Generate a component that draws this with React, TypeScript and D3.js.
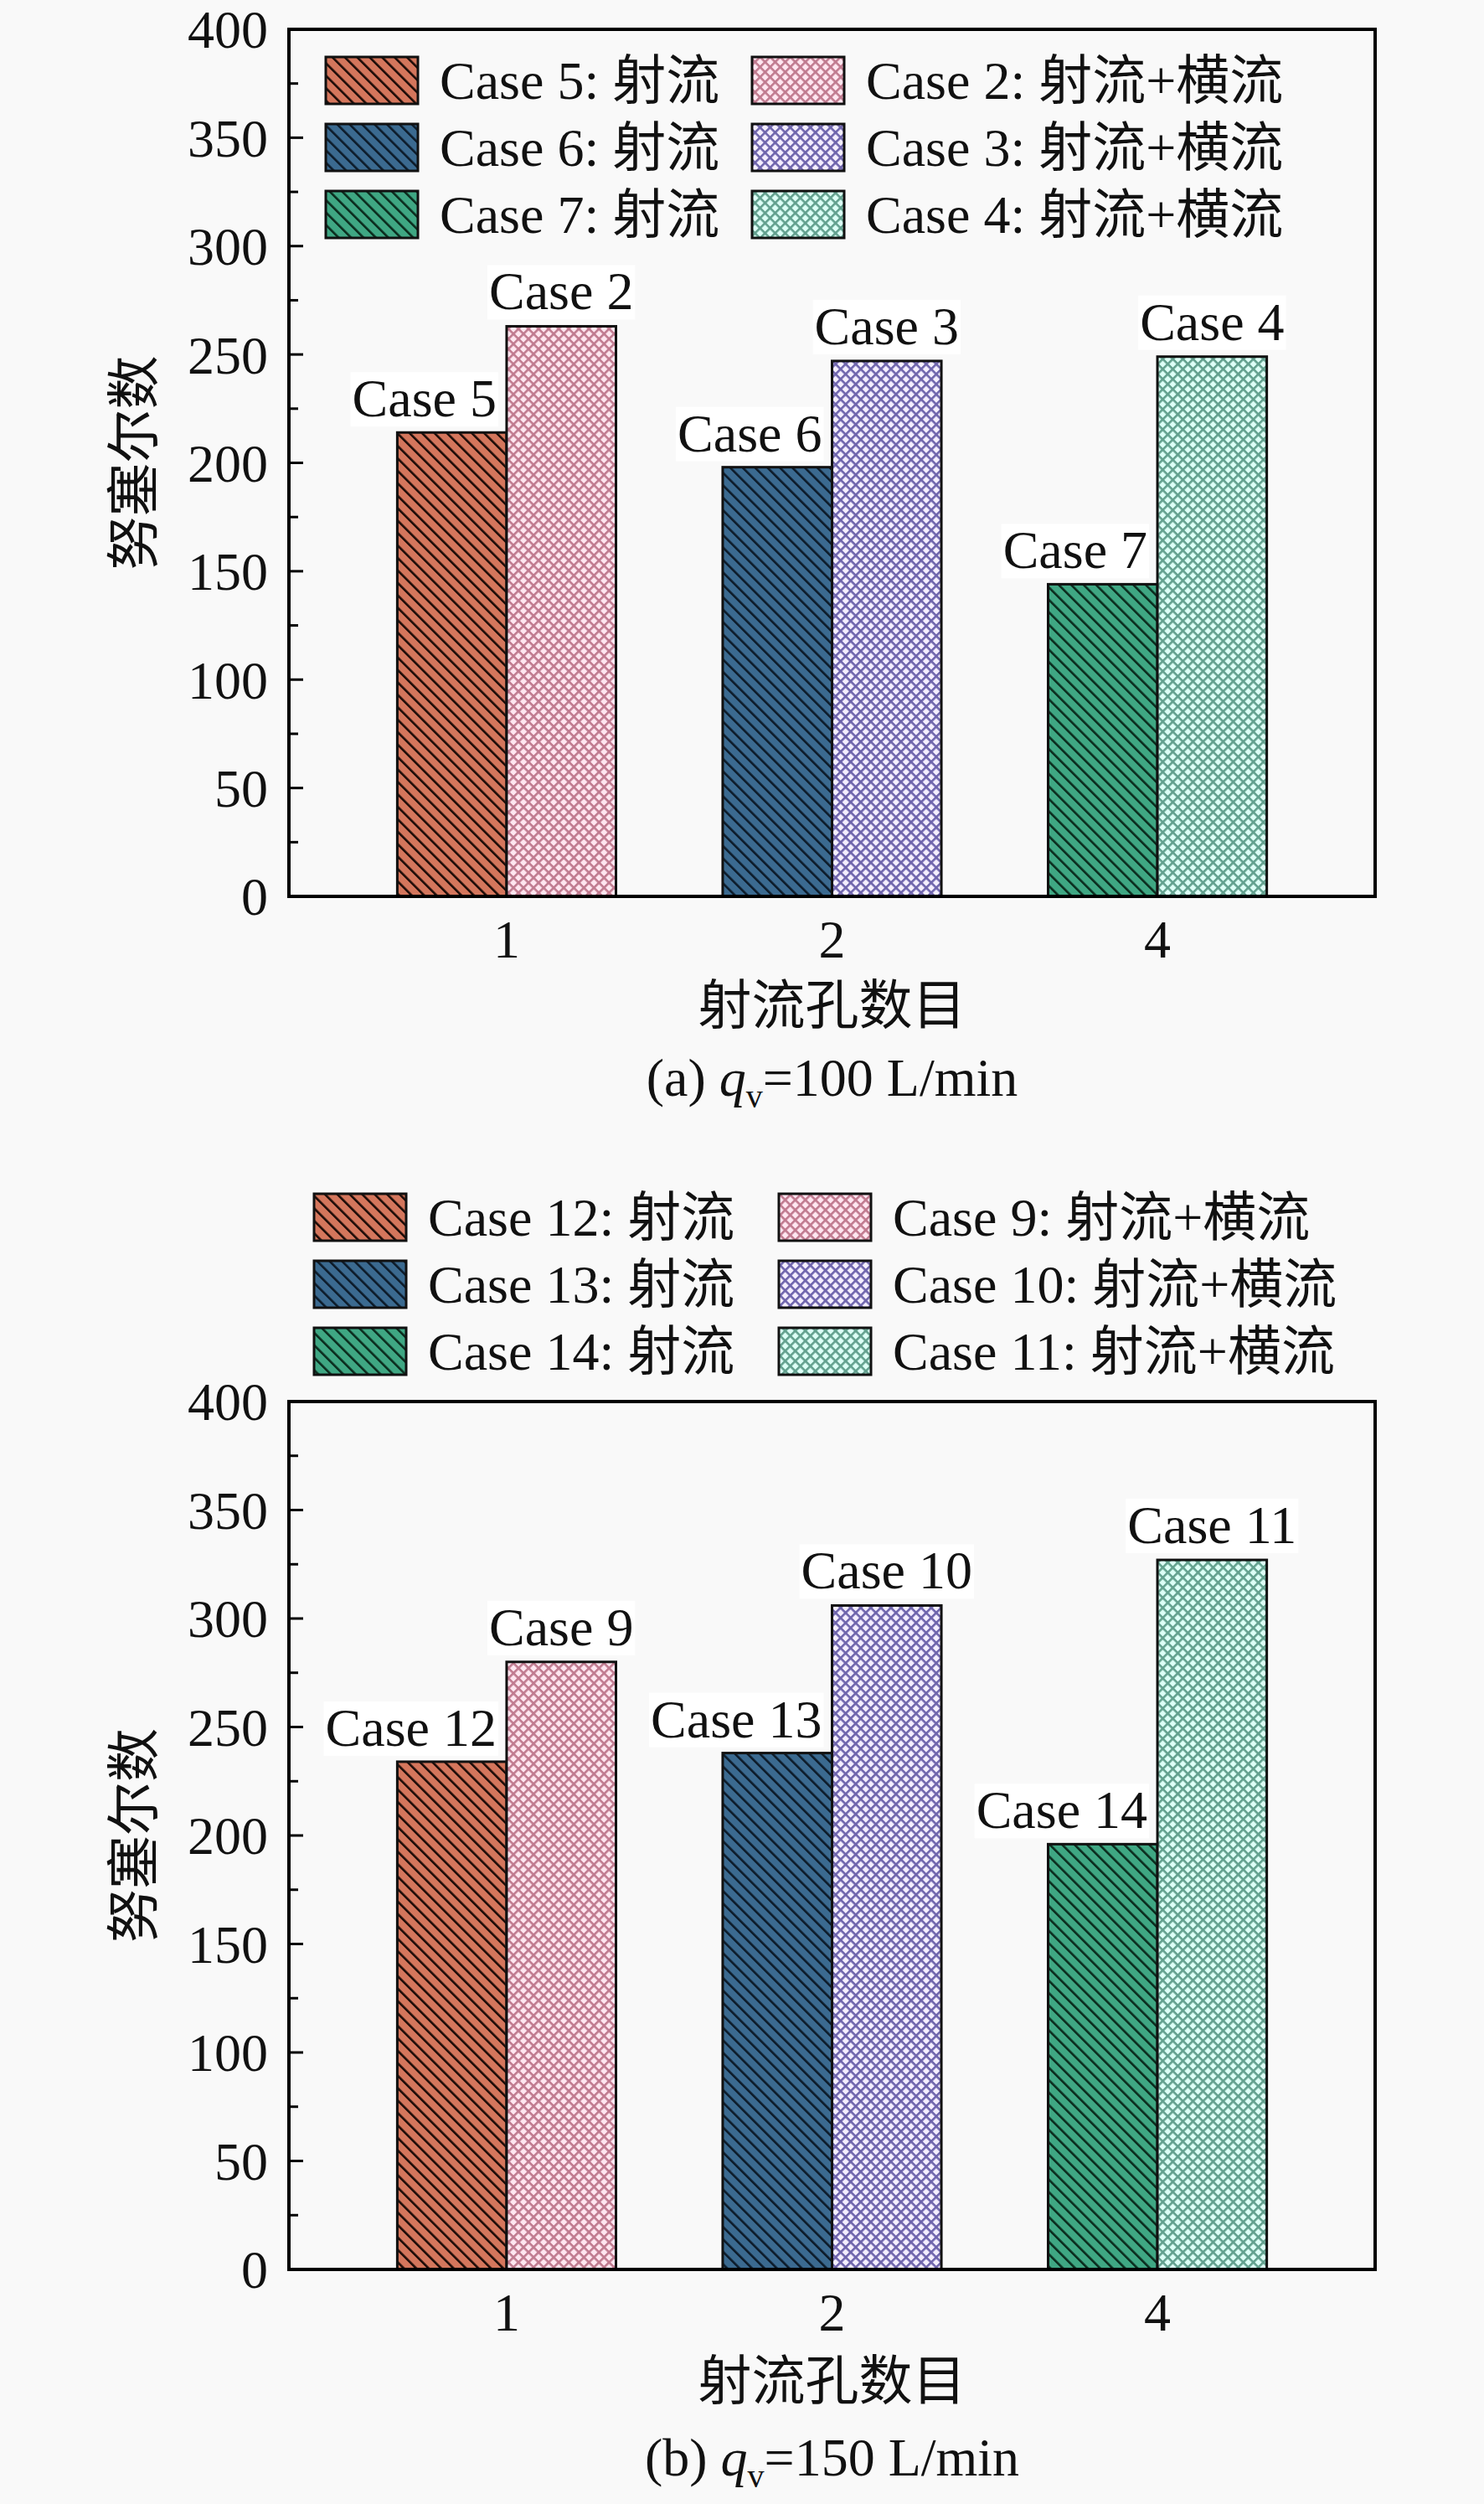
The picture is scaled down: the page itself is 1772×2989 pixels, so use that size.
import React, { useRef, useEffect } from "react";
import * as d3 from "d3";

const W = 1772;
const H = 2989;

// -----------------------------
// Data
// -----------------------------
const categories = ["1", "2", "4"];
const yTicks = [0, 50, 100, 150, 200, 250, 300, 350, 400];
const yMinorTicks = [25, 75, 125, 175, 225, 275, 325, 375];

const jetCasesA = ["Case 5", "Case 6", "Case 7"];
const crossCasesA = ["Case 2", "Case 3", "Case 4"];
const jetValuesA = [214, 198, 144];
const crossValuesA = [263, 247, 249];

const jetCasesB = ["Case 12", "Case 13", "Case 14"];
const crossCasesB = ["Case 9", "Case 10", "Case 11"];
const jetValuesB = [234, 238, 196];
const crossValuesB = [280, 306, 327];

const jetColors = ["#d4765c", "#3b6a90", "#3fa783"];
const jetLineColors = ["#1a0a06", "#0c1a28", "#0a2a1c"];
const crossBg = ["#ffe6f0", "#f4eeff", "#dcfff6"];
const crossLine = ["#c07a8f", "#6e64ac", "#62a08e"];

const yTitle = "努塞尔数";
const xTitle = "射流孔数目";

type Panel = {
    id: string;
    jetCases: string[];
    crossCases: string[];
    jet: number[];
    cross: number[];
    top: number;
    bottom: number;
    legendRows: number[];
    legendX: [number, number];
    tickY: number;
    titleY: number;
    captionY: number;
    letter: string;
    flow: string;
};

const panels: Panel[] = [
    {
        id: "a", jetCases: jetCasesA, crossCases: crossCasesA, jet: jetValuesA, cross: crossValuesA,
        top: 35, bottom: 1070, legendRows: [96, 176, 256], legendX: [389, 898],
        tickY: 1143, titleY: 1222, captionY: 1308, letter: "(a) ", flow: "=100 L/min",
    },
    {
        id: "b", jetCases: jetCasesB, crossCases: crossCasesB, jet: jetValuesB, cross: crossValuesB,
        top: 1673, bottom: 2709, legendRows: [1453, 1533, 1613], legendX: [375, 930],
        tickY: 2782, titleY: 2864, captionY: 2955, letter: "(b) ", flow: "=150 L/min",
    },
];

const FONT = "'Liberation Serif', 'Times New Roman', Tinos, serif, 'Noto Sans CJK SC'";
const FS = 64;
const LEFT = 345;
const RIGHT = 1642;

const App: React.FC = () => {
    const svgRef = useRef<SVGSVGElement | null>(null);

    useEffect(() => {
        if (!svgRef.current) return;
        const svg = d3.select(svgRef.current);
        svg.selectAll("*").remove();

        svg.append("rect").attr("width", W).attr("height", H).attr("fill", "#f9f9f9");

        // -----------------------------
        // Patterns
        // -----------------------------
        const defs = svg.append("defs");
        jetColors.forEach((c, i) => {
            const s = 10.5;
            const p = defs.append("pattern")
                .attr("id", `jet${i}`)
                .attr("patternUnits", "userSpaceOnUse")
                .attr("width", s)
                .attr("height", s)
                .attr("patternTransform", "rotate(-45)");
            p.append("rect").attr("width", s).attr("height", s).attr("fill", c);
            p.append("rect").attr("x", 0).attr("width", 2.6).attr("height", s).attr("fill", jetLineColors[i]);
        });
        crossBg.forEach((c, i) => {
            const d = 8.5;
            const p = defs.append("pattern")
                .attr("id", `cross${i}`)
                .attr("patternUnits", "userSpaceOnUse")
                .attr("width", d)
                .attr("height", d)
                .attr("patternTransform", "rotate(45)");
            p.append("rect").attr("width", d).attr("height", d).attr("fill", c);
            p.append("rect").attr("width", 2.6).attr("height", d).attr("fill", crossLine[i]);
            p.append("rect").attr("width", d).attr("height", 2.6).attr("fill", crossLine[i]);
        });

        const x = d3.scaleBand<string>()
            .domain(categories)
            .range([LEFT, RIGHT])
            .paddingInner(0.328)
            .paddingOuter(0.333);
        const half = x.bandwidth() / 2;

        panels.forEach(panel => {
            const y = d3.scaleLinear().domain([0, 400]).range([panel.bottom, panel.top]);
            const g = svg.append("g");

            // bars
            categories.forEach((cat, i) => {
                const x0 = x(cat)!;
                g.append("rect")
                    .attr("x", x0)
                    .attr("y", y(panel.jet[i]))
                    .attr("width", half)
                    .attr("height", y(0) - y(panel.jet[i]))
                    .attr("fill", `url(#jet${i})`)
                    .attr("stroke", "#111")
                    .attr("stroke-width", 3);
                g.append("rect")
                    .attr("x", x0 + half)
                    .attr("y", y(panel.cross[i]))
                    .attr("width", half)
                    .attr("height", y(0) - y(panel.cross[i]))
                    .attr("fill", `url(#cross${i})`)
                    .attr("stroke", "#111")
                    .attr("stroke-width", 3);
            });

            // bar labels with white boxes
            const addLabel = (tx: number, ty: number, anchor: string, txt: string) => {
                const bg = g.append("rect").attr("fill", "#ffffff");
                const t = g.append("text")
                    .attr("x", tx)
                    .attr("y", ty)
                    .attr("text-anchor", anchor)
                    .attr("font-family", FONT)
                    .attr("font-size", FS)
                    .attr("fill", "#111")
                    .text(txt);
                const bb = (t.node() as SVGTextElement).getBBox();
                bg.attr("x", bb.x - 2).attr("y", bb.y + 4).attr("width", bb.width + 4).attr("height", bb.height - 6);
            };
            categories.forEach((cat, i) => {
                const x0 = x(cat)!;
                addLabel(x0 + half - 12, y(panel.jet[i]) - 19, "end", panel.jetCases[i]);
                addLabel(x0 + half * 1.5, y(panel.cross[i]) - 20, "middle", panel.crossCases[i]);
            });

            // frame
            g.append("rect")
                .attr("x", LEFT)
                .attr("y", panel.top)
                .attr("width", RIGHT - LEFT)
                .attr("height", panel.bottom - panel.top)
                .attr("fill", "none")
                .attr("stroke", "#000")
                .attr("stroke-width", 4);

            // y ticks (inward)
            yTicks.forEach(v => {
                g.append("line")
                    .attr("x1", LEFT).attr("x2", LEFT + 17)
                    .attr("y1", y(v)).attr("y2", y(v))
                    .attr("stroke", "#000").attr("stroke-width", 3);
                g.append("text")
                    .attr("x", 320)
                    .attr("y", y(v))
                    .attr("dy", "0.35em")
                    .attr("text-anchor", "end")
                    .attr("font-family", FONT)
                    .attr("font-size", FS)
                    .attr("fill", "#111")
                    .text(v);
            });
            yMinorTicks.forEach(v => {
                g.append("line")
                    .attr("x1", LEFT).attr("x2", LEFT + 11)
                    .attr("y1", y(v)).attr("y2", y(v))
                    .attr("stroke", "#000").attr("stroke-width", 3);
            });

            // x tick labels
            categories.forEach(cat => {
                g.append("text")
                    .attr("x", x(cat)! + half)
                    .attr("y", panel.tickY)
                    .attr("text-anchor", "middle")
                    .attr("font-family", FONT)
                    .attr("font-size", FS)
                    .attr("fill", "#111")
                    .text(cat);
            });

            // axis titles
            const cy = (panel.top + panel.bottom) / 2;
            g.append("text")
                .attr("transform", `translate(${182},${cy}) rotate(-90)`)
                .attr("text-anchor", "middle")
                .attr("font-family", FONT)
                .attr("font-size", FS)
                .attr("fill", "#111")
                .text(yTitle);
            g.append("text")
                .attr("x", (LEFT + RIGHT) / 2)
                .attr("y", panel.titleY)
                .attr("text-anchor", "middle")
                .attr("font-family", FONT)
                .attr("font-size", FS)
                .attr("fill", "#111")
                .text(xTitle);

            // caption
            const cap = g.append("text")
                .attr("x", (LEFT + RIGHT) / 2)
                .attr("y", panel.captionY)
                .attr("text-anchor", "middle")
                .attr("font-family", FONT)
                .attr("font-size", FS)
                .attr("fill", "#111");
            cap.append("tspan").text(panel.letter);
            cap.append("tspan").attr("font-style", "italic").text("q");
            cap.append("tspan").attr("font-size", 40).attr("dy", 14).text("v");
            cap.append("tspan").attr("dy", -14).text(panel.flow);

            // legend
            const items = [panel.jetCases, panel.crossCases];
            items.forEach((cases, col) => {
                cases.forEach((c, row) => {
                    const lx = panel.legendX[col];
                    const ly = panel.legendRows[row];
                    g.append("rect")
                        .attr("x", lx)
                        .attr("y", ly - 28)
                        .attr("width", 110)
                        .attr("height", 56)
                        .attr("fill", col === 0 ? `url(#jet${row})` : `url(#cross${row})`)
                        .attr("stroke", "#111")
                        .attr("stroke-width", 3);
                    g.append("text")
                        .attr("x", lx + 136)
                        .attr("y", ly)
                        .attr("dy", "0.35em")
                        .attr("font-family", FONT)
                        .attr("font-size", FS)
                        .attr("fill", "#111")
                        .text(`${c}: ${col === 0 ? "射流" : "射流+横流"}`);
                });
            });
        });
    }, []);

    return (
        <svg
            ref={svgRef}
            width={W}
            height={H}
            style={{ position: "absolute", left: 0, top: 0, display: "block" }}
        />
    );
};

export default App;
